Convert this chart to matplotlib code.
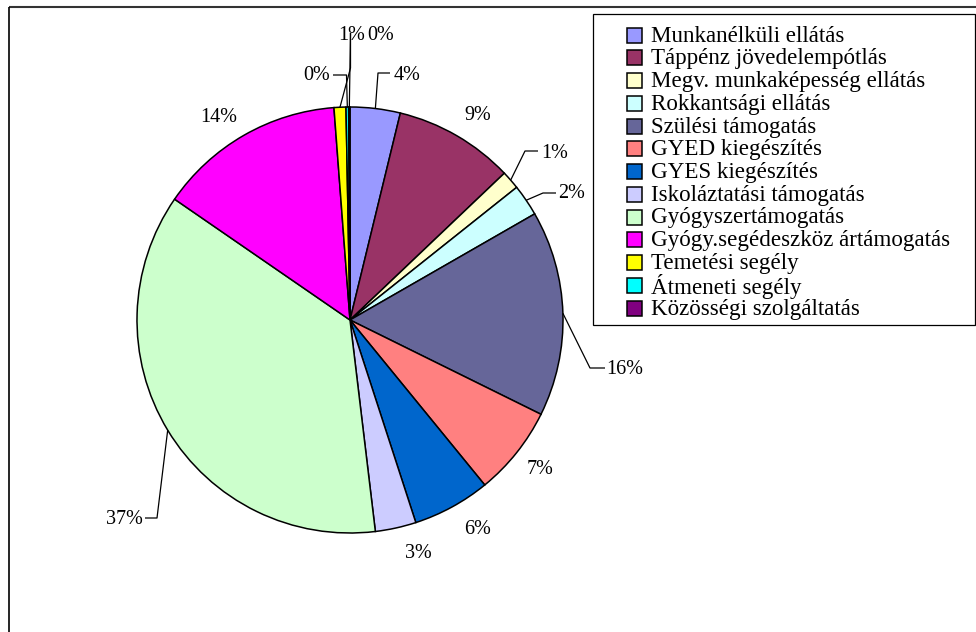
import numpy as np
import matplotlib
matplotlib.use("Agg")
import matplotlib.pyplot as plt
from matplotlib.patches import Rectangle

plt.rcParams['font.family'] = ['Liberation Serif', 'DejaVu Serif']

# data (share of total, %)
categories = ['Munkanélküli ellátás', 'Táppénz jövedelempótlás',
              'Megv. munkaképesség ellátás', 'Rokkantsági ellátás',
              'Szülési támogatás', 'GYED kiegészítés', 'GYES kiegészítés',
              'Iskoláztatási támogatás', 'Gyógyszertámogatás',
              'Gyógy.segédeszköz ártámogatás', 'Temetési segély',
              'Átmeneti segély', 'Közösségi szolgáltatás']
shares = [3.8, 9.1, 1.4, 2.4, 15.6, 6.8, 5.9, 3.1, 36.5, 14.2, 0.9, 0.2, 0.1]
pct_labels = ['4%', '9%', '1%', '2%', '16%', '7%', '6%', '3%', '37%', '14%',
              '1%', '0%', '0%']
colors = ['#9999FF', '#993366', '#FFFFCC', '#CCFFFF', '#666699', '#FF8080',
          '#0066CC', '#CCCCFF', '#CCFFCC', '#FF00FF', '#FFFF00', '#00FFFF',
          '#800080']

# layout (pixel coords, origin top-left)
W, H = 976, 632
CX, CY, R = 350, 320, 213
label_pos = [(407, 75), (478, 115), (555, 154), (572, 194), (625, 369),
             (540, 470), (478, 529), (418, 553), (124, 520), (219, 118),
             (352, 35), (317, 76), (381, 35)]
leaders = {0: [(378, 73), (390, 73)],
           2: [(525, 151), (538, 151)],
           3: [(543, 193), (556, 193)],
           4: [(590, 368), (605, 368)],
           8: [(157, 518), (145, 518)],
           10: [(350.5, 68), (350.5, 33)],
           11: [(346.5, 75), (333, 75)],
           12: [(350.5, 33)]}


def flip(y):
    return H - y


fig = plt.figure(figsize=(W / 100, H / 100), dpi=100)
ax = fig.add_axes([0, 0, 1, 1])

wedges, _ = ax.pie(shares, colors=colors, startangle=90, counterclock=False,
                   radius=R, center=(CX, flip(CY)),
                   wedgeprops=dict(edgecolor='black', linewidth=1.1))
ax.set_xlim(0, W)
ax.set_ylim(0, H)
ax.set_aspect('equal')
ax.axis('off')

# percentage labels with leader lines
for i, w in enumerate(wedges):
    tx, ty = label_pos[i]
    ax.text(tx, flip(ty), pct_labels[i], fontsize=14.5, ha='center',
            va='center')
    if i in leaders:
        mid = np.deg2rad((w.theta1 + w.theta2) / 2)
        sx = CX + R * np.cos(mid)
        sy = CY - R * np.sin(mid)
        pts = [(sx, sy)] + leaders[i]
        ax.plot([p[0] for p in pts], [flip(p[1]) for p in pts],
                color='black', lw=0.9, solid_capstyle='butt')

# legend
ax.add_patch(Rectangle((593, flip(325)), 382, 311, facecolor='white',
                       edgecolor='black', lw=0.9))
for i, name in enumerate(categories):
    yc = 35 + 22.75 * i
    ax.add_patch(Rectangle((627, flip(yc + 7.5)), 15, 15,
                           facecolor=colors[i], edgecolor='black', lw=1.1))
    ax.text(651, flip(yc + 1), name, fontsize=16.6, ha='left', va='center')

# outer frame (top and left edges)
ax.plot([9, W], [flip(7), flip(7)], color='#333333', lw=1.5,
        solid_capstyle='butt')
ax.plot([9, 9], [flip(7), 0], color='black', lw=1.2, solid_capstyle='butt')

fig.savefig('out.png', dpi=100, facecolor='white')
